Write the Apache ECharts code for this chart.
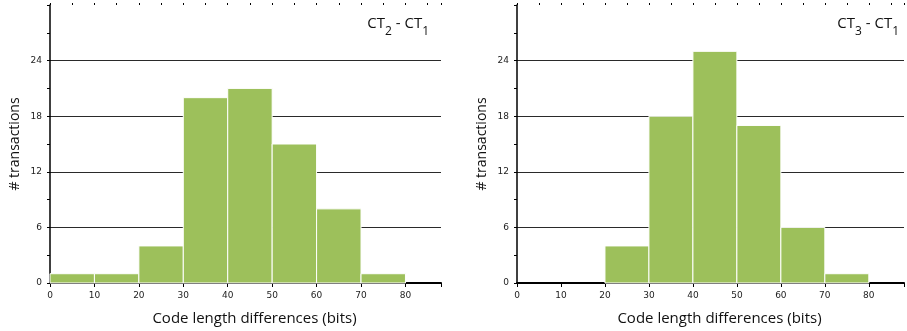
<!DOCTYPE html>
<html><head><meta charset="utf-8">
<script src="https://cdn.jsdelivr.net/npm/echarts@6/dist/echarts.min.js"></script>
<style>html,body{margin:0;padding:0;background:#fff}#c{width:907px;height:331px}</style>
</head><body><div id="c"></div>
<script>
const binStarts = [0, 10, 20, 30, 40, 50, 60, 70];
const binWidth = 10;
const countsCT2 = [1, 1, 4, 20, 21, 15, 8, 1];
const countsCT3 = [0, 0, 4, 18, 25, 17, 6, 1];
const yTicks = [0, 6, 12, 18, 24];
const xTickLabels = [0, 10, 20, 30, 40, 50, 60, 70, 80];

const chart = echarts.init(document.getElementById('c'));
const grids = [
  {left: 50, top: 5, width: 391, height: 278},
  {left: 517, top: 5, width: 390, height: 278}
];
function mkX(i) {
  return [{
    type: 'value', gridIndex: i, min: 0, max: 88, interval: 10,
    name: 'Code length differences (bits)', nameLocation: 'middle', nameGap: 28,
    nameTextStyle: {fontFamily: 'Open Sans', fontSize: 15, color: '#111', padding: [0,0,0,18]},
    axisLine: {lineStyle: {color: '#000', width: 2}},
    axisTick: {length: 4, lineStyle: {color: '#000'}},
    axisLabel: {fontFamily: 'DejaVu Sans', fontSize: 9, color: '#222', margin: 8,
      formatter: v => xTickLabels.indexOf(v) >= 0 ? String(v) : ''},
    splitLine: {show: false}
  }, {
    type: 'value', gridIndex: i, min: 0, max: 88, interval: 5,
    axisLine: {show: false}, axisTick: {length: 2, lineStyle: {color: '#000'}},
    axisLabel: {show: false}, splitLine: {show: false}
  }];
}
function mkY(i) {
  return {
    type: 'value', gridIndex: i, min: 0, max: 30, interval: 6,
    name: '# transactions', nameLocation: 'middle', nameGap: 28,
    nameTextStyle: {fontFamily: 'Open Sans', fontSize: 14, color: '#111'},
    axisLine: {show: true, lineStyle: {color: '#000', width: 1.5}},
    axisTick: {show: true, length: 3, lineStyle: {color: '#000'}},
    minorTick: {show: true, splitNumber: 2, length: 3, lineStyle: {color: '#000'}},
    axisLabel: {fontFamily: 'DejaVu Sans', fontSize: 9, color: '#222', margin: 8,
      showMaxLabel: false, formatter: v => yTicks.indexOf(v) >= 0 ? String(v) : ''},
    splitLine: {show: true, showMaxLine: false, lineStyle: {color: '#2a2a2a', width: 1}}
  };
}
function series(i, counts) {
  return {
    type: 'custom', xAxisIndex: i * 2, yAxisIndex: i,
    data: binStarts.map((s, k) => [s, s + binWidth, counts[k]]),
    renderItem: function (params, api) {
      const h = api.value(2);
      if (!h) return null;
      const p0 = api.coord([api.value(0), 0]);
      const p1 = api.coord([api.value(1), h]);
      return {
        type: 'rect',
        shape: {x: p0[0], y: p1[1], width: p1[0] - p0[0], height: p0[1] - p1[1]},
        style: {fill: '#9DC05B', stroke: '#fff', lineWidth: 1}
      };
    },
    z: 5
  };
}
const titleStyle = {
  fontFamily: 'Open Sans', fontSize: 15, fontWeight: 'normal', color: '#111',
  rich: {s: {fontFamily: 'Open Sans', fontSize: 12, fontWeight: 'normal', color: '#111', verticalAlign: 'bottom', padding: [0,0,-7,0]}}
};
chart.setOption({
  animation: false,
  grid: grids,
  xAxis: [...mkX(0), ...mkX(1)],
  yAxis: [mkY(0), mkY(1)],
  title: [
    {text: 'CT{s|2} - CT{s|1}', right: 907 - 434, top: 11, textStyle: titleStyle},
    {text: 'CT{s|3} - CT{s|1}', right: 3, top: 11, textStyle: titleStyle}
  ],
  series: [series(0, countsCT2), series(1, countsCT3)]
});
</script></body></html>
